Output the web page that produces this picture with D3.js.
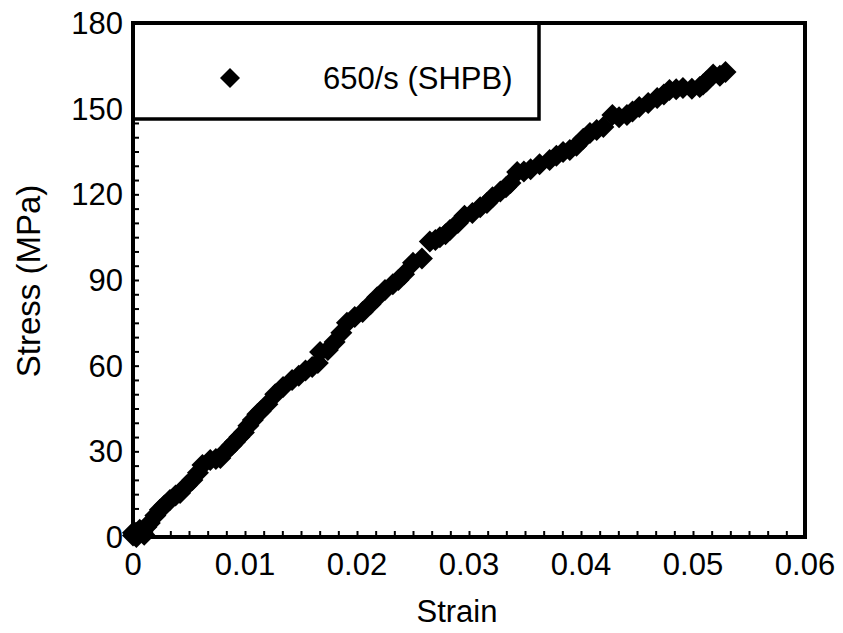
<!DOCTYPE html>
<html>
<head>
<meta charset="utf-8">
<script src="https://cdn.jsdelivr.net/npm/d3@7"></script>
<style>
  html, body { margin: 0; padding: 0; background: #fff; }
  text { font-family: Arial, "Liberation Sans", sans-serif; fill: #000; }
</style>
</head>
<body>
<svg id="chart" width="843" height="633"></svg>
<script>
// ---- data ----
const strain = [0, 0, 0.0003, 0.0006, 0.001, 0.0012, 0.0015, 0.0020, 0.0024, 0.0028,
  0.0033, 0.0038, 0.0042, 0.0048, 0.0053, 0.0058, 0.0062, 0.0069, 0.0074, 0.0078,
  0.0084, 0.0088, 0.0091, 0.0095, 0.0099, 0.0103, 0.0107, 0.0111, 0.0114, 0.0120,
  0.0127, 0.0134, 0.0142, 0.0148, 0.0154, 0.0160, 0.0165, 0.0167, 0.0174, 0.0180,
  0.0186, 0.0191, 0.0198, 0.0205, 0.0212, 0.0218, 0.0225, 0.0232, 0.0237, 0.0242,
  0.0250, 0.0258, 0.0265, 0.0270, 0.0274, 0.0279, 0.0283, 0.0290, 0.0296, 0.0303,
  0.0310, 0.0316, 0.0321, 0.0328, 0.0333, 0.0337, 0.0343, 0.0349, 0.0355, 0.0363,
  0.0372, 0.0378, 0.0384, 0.0390, 0.0396, 0.0402, 0.0408, 0.0414, 0.0420, 0.0428,
  0.0434, 0.0441, 0.0446, 0.0452, 0.0460, 0.0468, 0.0474, 0.0479, 0.0485, 0.0491,
  0.0499, 0.0506, 0.0509, 0.0512, 0.0518, 0.0524, 0.0529];
const stress = [0.5, 1.5, 0, 2.5, 0.8, 3.5, 4.9, 7.5, 9.5, 11,
  13.0, 14.5, 15.4, 18, 20.0, 22.5, 25.2, 27.0, 27.3, 27.7,
  30.5, 32, 33.3, 35, 36.6, 39, 41.0, 43, 44, 46.5,
  50, 52.5, 55.0, 56.5, 58.3, 59.5, 60.9, 64.8, 65.5, 68.3,
  71.5, 75.0, 77, 78.8, 81.5, 84.0, 86.5, 88.5, 90, 92,
  96, 97.5, 103.5, 104, 105, 106, 107.5, 110, 112.5, 113.5,
  115.5, 117, 119.0, 121, 122.5, 124.0, 127.8, 128, 128.8, 130.5,
  132.0, 133.5, 134.8, 135.5, 137, 139.5, 141.5, 142.5, 143.6, 147.8,
  147, 147.8, 149, 150.6, 152, 153.7, 155, 156.5, 156.8, 157.2,
  157, 157.6, 158.5, 159.5, 162.0, 161.5, 162.8];
const xTicks = [0, 0.01, 0.02, 0.03, 0.04, 0.05, 0.06];
const xTickLabels = ["0", "0.01", "0.02", "0.03", "0.04", "0.05", "0.06"];
const yTicks = [0, 30, 60, 90, 120, 150, 180];
const seriesName = "650/s (SHPB)";
const xTitle = "Strain";
const yTitle = "Stress (MPa)";

// ---- layout ----
const L = 133, R = 805, T = 23, B = 537;
const svg = d3.select("#chart");
const x = d3.scaleLinear().domain([0, 0.06]).range([L, R]);
const y = d3.scaleLinear().domain([0, 180]).range([B, T]);

// minor ticks (inside)
const xMinor = d3.range(0, 36 + 1).map(i => i * 0.06 / 36);
const yMinor = d3.range(0, 36 + 1).map(i => i * 5);

const xAxis = d3.axisBottom(x).tickValues(xMinor).tickSize(-6).tickFormat("");
const yAxis = d3.axisLeft(y).tickValues(yMinor).tickSize(-6).tickFormat("");
const gx = svg.append("g").attr("transform", `translate(0,${B})`).call(xAxis);
const gy = svg.append("g").attr("transform", `translate(${L},0)`).call(yAxis);
[gx, gy].forEach(g => {
  g.select(".domain").remove();
  g.selectAll("line").attr("stroke", "#000").attr("stroke-width", 2);
});

// tick labels
svg.append("g").selectAll("text").data(xTicks).join("text")
  .attr("x", d => x(d)).attr("y", 575)
  .attr("text-anchor", "middle").attr("font-size", 31)
  .text((d, i) => xTickLabels[i]);
svg.append("g").selectAll("text").data(yTicks).join("text")
  .attr("x", 123).attr("y", d => y(d) + 11)
  .attr("text-anchor", "end").attr("font-size", 31)
  .text(d => d);

// axis titles
svg.append("text").attr("x", 457).attr("y", 622)
  .attr("text-anchor", "middle").attr("font-size", 31).text(xTitle);
svg.append("text").attr("transform", `translate(40,281) rotate(-90)`)
  .attr("text-anchor", "middle").attr("font-size", 33).text(yTitle);

// data markers
const diamond = s => `M0,${-s}L${s},0L0,${s}L${-s},0Z`;
const pts = strain.map((s, i) => ({ s, v: stress[i] }));
svg.append("g").selectAll("path").data(pts).join("path")
  .attr("d", diamond(11))
  .attr("transform", d => `translate(${x(d.s)},${y(d.v)})`)
  .attr("fill", "#000");

// legend box
svg.append("rect").attr("x", L).attr("y", T).attr("width", 539 - L).attr("height", 119 - T)
  .attr("fill", "#fff").attr("stroke", "#000").attr("stroke-width", 3.5);
svg.append("path").attr("d", diamond(10)).attr("transform", "translate(230,78)")
  .attr("fill", "#000");
svg.append("text").attr("x", 323).attr("y", 89).attr("font-size", 31).text(seriesName);

// frame
svg.append("rect").attr("x", L).attr("y", T).attr("width", R - L).attr("height", B - T)
  .attr("fill", "none").attr("stroke", "#000").attr("stroke-width", 4);
</script>
</body>
</html>
